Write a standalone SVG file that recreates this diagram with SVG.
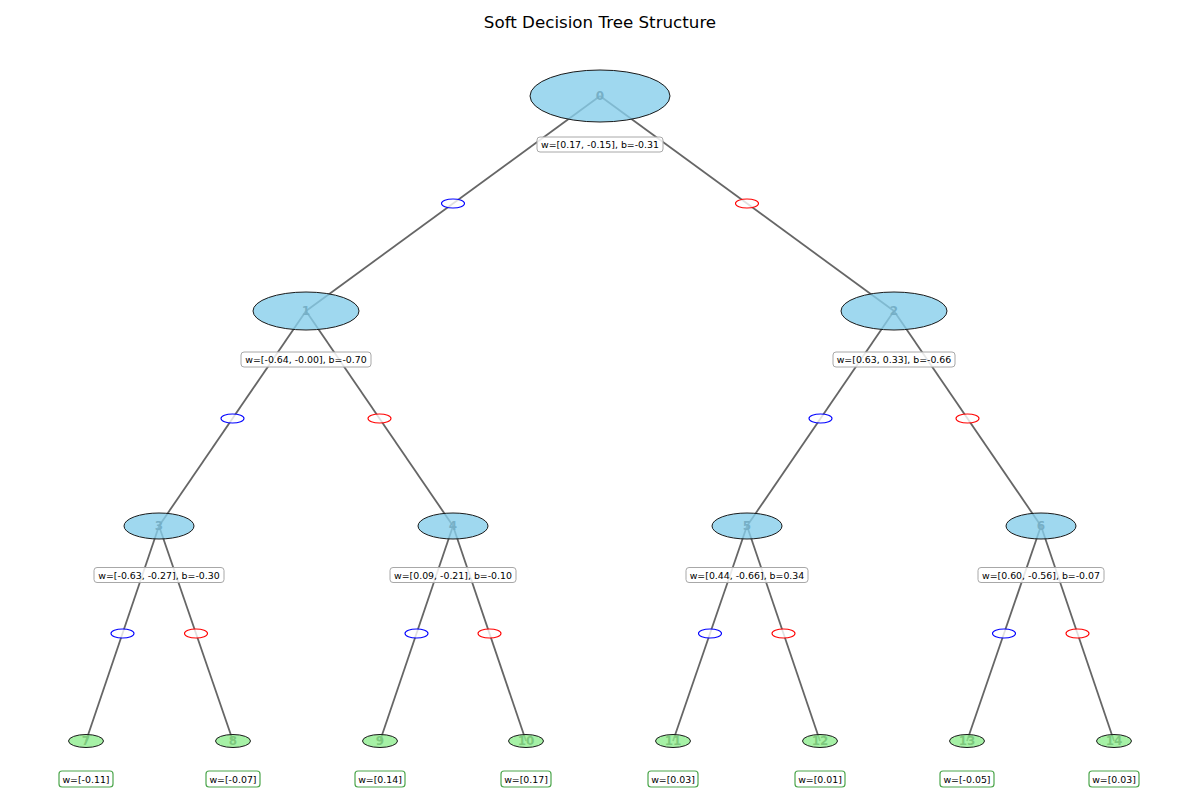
<svg xmlns="http://www.w3.org/2000/svg" width="1200" height="800" viewBox="0 0 1200 800">
<style>
.edge{stroke:#666;stroke-width:1.8;fill:none}
.gl{fill:#fff;fill-opacity:0.8;stroke:#0000ff;stroke-width:1.1}
.gr{fill:#fff;fill-opacity:0.8;stroke:#ff0000;stroke-width:1.1}
.inner{fill:#87ceeb;fill-opacity:0.8;stroke:#1a1a1a;stroke-width:1}
.leaf{fill:#90ee90;fill-opacity:0.8;stroke:#1a1a1a;stroke-width:1}
.nid{font-family:"DejaVu Sans",sans-serif;font-size:12px;font-weight:bold;fill:#333;text-anchor:middle;dominant-baseline:central}
.lbl{font-family:"DejaVu Sans",sans-serif;font-size:9.4px;fill:#000;text-anchor:middle;dominant-baseline:central}
.box{fill:#fff;fill-opacity:0.85;stroke:#a8a8a8;stroke-width:1}
.lbox{fill:#fff;fill-opacity:0.85;stroke:#4ca64c;stroke-width:1.2}
.title{font-family:"DejaVu Sans",sans-serif;font-size:16.7px;fill:#000;text-anchor:middle}
</style>
<rect width="1200" height="800" fill="#fff"/>
<text class="title" x="600" y="28">Soft Decision Tree Structure</text>
<g id="connectors">
<line class="edge" x1="600" y1="96" x2="306" y2="311"/>
<line class="edge" x1="600" y1="96" x2="894" y2="311"/>
<line class="edge" x1="306" y1="311" x2="159" y2="526"/>
<line class="edge" x1="306" y1="311" x2="453" y2="526"/>
<line class="edge" x1="894" y1="311" x2="747" y2="526"/>
<line class="edge" x1="894" y1="311" x2="1041" y2="526"/>
<line class="edge" x1="159" y1="526" x2="86" y2="741"/>
<line class="edge" x1="159" y1="526" x2="233" y2="741"/>
<line class="edge" x1="453" y1="526" x2="380" y2="741"/>
<line class="edge" x1="453" y1="526" x2="526" y2="741"/>
<line class="edge" x1="747" y1="526" x2="673" y2="741"/>
<line class="edge" x1="747" y1="526" x2="820" y2="741"/>
<line class="edge" x1="1041" y1="526" x2="967" y2="741"/>
<line class="edge" x1="1041" y1="526" x2="1114" y2="741"/>
<ellipse class="gl" cx="453" cy="203.5" rx="11.5" ry="4.5"/>
<ellipse class="gr" cx="747" cy="203.5" rx="11.5" ry="4.5"/>
<ellipse class="gl" cx="232.5" cy="418.5" rx="11.5" ry="4.5"/>
<ellipse class="gr" cx="379.5" cy="418.5" rx="11.5" ry="4.5"/>
<ellipse class="gl" cx="820.5" cy="418.5" rx="11.5" ry="4.5"/>
<ellipse class="gr" cx="967.5" cy="418.5" rx="11.5" ry="4.5"/>
<ellipse class="gl" cx="122.5" cy="633.5" rx="11.5" ry="4.5"/>
<ellipse class="gr" cx="196" cy="633.5" rx="11.5" ry="4.5"/>
<ellipse class="gl" cx="416.5" cy="633.5" rx="11.5" ry="4.5"/>
<ellipse class="gr" cx="489.5" cy="633.5" rx="11.5" ry="4.5"/>
<ellipse class="gl" cx="710" cy="633.5" rx="11.5" ry="4.5"/>
<ellipse class="gr" cx="783.5" cy="633.5" rx="11.5" ry="4.5"/>
<ellipse class="gl" cx="1004" cy="633.5" rx="11.5" ry="4.5"/>
<ellipse class="gr" cx="1077.5" cy="633.5" rx="11.5" ry="4.5"/>
</g>
<g id="node0"><text class="nid" x="600" y="96">0</text><ellipse class="inner" cx="600" cy="96" rx="70" ry="26"/><rect class="box" x="537" y="137" width="126" height="15" rx="3"/><text class="lbl" x="600" y="144.5">w=[0.17, -0.15], b=-0.31</text></g>
<g id="node1"><text class="nid" x="306" y="311">1</text><ellipse class="inner" cx="306" cy="311" rx="53" ry="19"/><rect class="box" x="241" y="352" width="130" height="15" rx="3"/><text class="lbl" x="306" y="359.5">w=[-0.64, -0.00], b=-0.70</text></g>
<g id="node2"><text class="nid" x="894" y="311">2</text><ellipse class="inner" cx="894" cy="311" rx="53" ry="19"/><rect class="box" x="833" y="352" width="122" height="15" rx="3"/><text class="lbl" x="894" y="359.5">w=[0.63, 0.33], b=-0.66</text></g>
<g id="node3"><text class="nid" x="159" y="526">3</text><ellipse class="inner" cx="159" cy="526" rx="35" ry="13"/><rect class="box" x="94" y="567.5" width="130" height="15" rx="3"/><text class="lbl" x="159" y="575">w=[-0.63, -0.27], b=-0.30</text></g>
<g id="node4"><text class="nid" x="453" y="526">4</text><ellipse class="inner" cx="453" cy="526" rx="35" ry="13"/><rect class="box" x="390" y="567.5" width="126" height="15" rx="3"/><text class="lbl" x="453" y="575">w=[0.09, -0.21], b=-0.10</text></g>
<g id="node5"><text class="nid" x="747" y="526">5</text><ellipse class="inner" cx="747" cy="526" rx="35" ry="13"/><rect class="box" x="686" y="567.5" width="122" height="15" rx="3"/><text class="lbl" x="747" y="575">w=[0.44, -0.66], b=0.34</text></g>
<g id="node6"><text class="nid" x="1041" y="526">6</text><ellipse class="inner" cx="1041" cy="526" rx="35" ry="13"/><rect class="box" x="978" y="567.5" width="126" height="15" rx="3"/><text class="lbl" x="1041" y="575">w=[0.60, -0.56], b=-0.07</text></g>
<g id="node7"><text class="nid" x="86" y="741">7</text><ellipse class="leaf" cx="86" cy="741" rx="17.5" ry="6.5"/><rect class="lbox" x="59" y="771" width="54" height="16" rx="3"/><text class="lbl" x="86" y="779">w=[-0.11]</text></g>
<g id="node8"><text class="nid" x="233" y="741">8</text><ellipse class="leaf" cx="233" cy="741" rx="17.5" ry="6.5"/><rect class="lbox" x="206" y="771" width="54" height="16" rx="3"/><text class="lbl" x="233" y="779">w=[-0.07]</text></g>
<g id="node9"><text class="nid" x="380" y="741">9</text><ellipse class="leaf" cx="380" cy="741" rx="17.5" ry="6.5"/><rect class="lbox" x="355" y="771" width="50" height="16" rx="3"/><text class="lbl" x="380" y="779">w=[0.14]</text></g>
<g id="node10"><text class="nid" x="526" y="741">10</text><ellipse class="leaf" cx="526" cy="741" rx="17.5" ry="6.5"/><rect class="lbox" x="501" y="771" width="50" height="16" rx="3"/><text class="lbl" x="526" y="779">w=[0.17]</text></g>
<g id="node11"><text class="nid" x="673" y="741">11</text><ellipse class="leaf" cx="673" cy="741" rx="17.5" ry="6.5"/><rect class="lbox" x="648" y="771" width="50" height="16" rx="3"/><text class="lbl" x="673" y="779">w=[0.03]</text></g>
<g id="node12"><text class="nid" x="820" y="741">12</text><ellipse class="leaf" cx="820" cy="741" rx="17.5" ry="6.5"/><rect class="lbox" x="795" y="771" width="50" height="16" rx="3"/><text class="lbl" x="820" y="779">w=[0.01]</text></g>
<g id="node13"><text class="nid" x="967" y="741">13</text><ellipse class="leaf" cx="967" cy="741" rx="17.5" ry="6.5"/><rect class="lbox" x="940" y="771" width="54" height="16" rx="3"/><text class="lbl" x="967" y="779">w=[-0.05]</text></g>
<g id="node14"><text class="nid" x="1114" y="741">14</text><ellipse class="leaf" cx="1114" cy="741" rx="17.5" ry="6.5"/><rect class="lbox" x="1089" y="771" width="50" height="16" rx="3"/><text class="lbl" x="1114" y="779">w=[0.03]</text></g>
</svg>
